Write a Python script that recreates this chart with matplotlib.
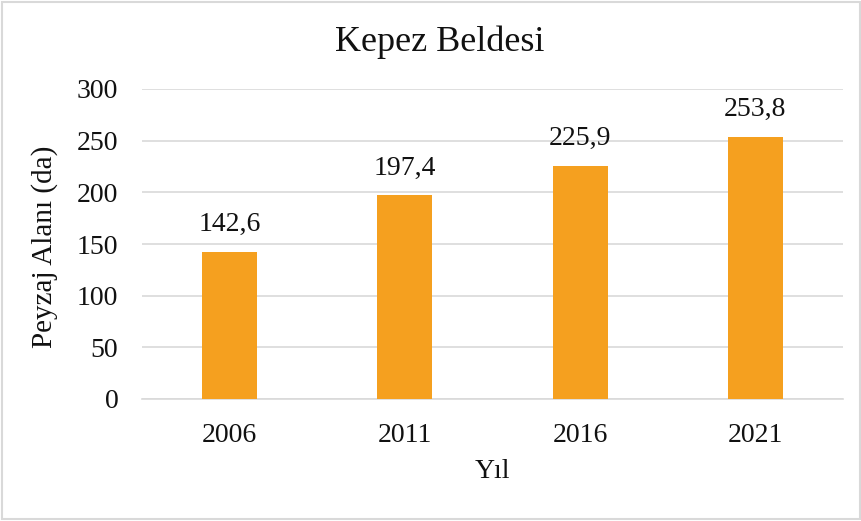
import matplotlib
matplotlib.use("Agg")
import matplotlib.pyplot as plt
from matplotlib.patches import Rectangle

years = ["2006", "2011", "2016", "2021"]
values = [142.6, 197.4, 225.9, 253.8]
labels = ["142,6", "197,4", "225,9", "253,8"]
yticks = [0, 50, 100, 150, 200, 250, 300]

plt.rcParams['font.family'] = ['Liberation Serif', 'DejaVu Serif']

fig = plt.figure(figsize=(8.62, 5.21), dpi=100)
ax = fig.add_axes([142/862, 1-399/521, 701/862, 310/521])

x = list(range(len(years)))
bars = ax.bar(x, values, width=0.314, color="#F5A01F", zorder=3)
for xi, v, lab in zip(x, values, labels):
    ax.text(xi, v + 14, lab, ha="center", va="bottom", fontsize=20, color="#111111")

ax.set_xlim(-0.5, len(years) - 0.5)
ax.set_ylim(0, 300)
ax.set_yticks(yticks)
ax.set_yticklabels([str(t) for t in yticks])
ax.set_xticks(x)
ax.set_xticklabels(years)
ax.tick_params(axis="both", length=0, labelsize=20, colors="#111111")
ax.tick_params(axis="y", pad=17)
ax.tick_params(axis="x", pad=17)
ax.grid(axis="y", color="#D9D9D9", linewidth=1.2, zorder=0)
for s in ["top", "right", "left"]:
    ax.spines[s].set_visible(False)
ax.spines["bottom"].set_color("#D9D9D9")
ax.spines["bottom"].set_linewidth(1.2)

fig.text(440/862, 1 - 42/521, "Kepez Beldesi", ha="center", va="center", fontsize=26, color="#111111")
fig.text(45/862, 1 - 247/521, "Peyzaj Alanı (da)", rotation=90, ha="center", va="center", fontsize=21, color="#111111")
fig.text(492/862, 1 - 472/521, "Yıl", ha="center", va="center", fontsize=20, color="#111111")

fig.patches.append(Rectangle((0.002, 0.004), 0.996, 0.992, transform=fig.transFigure,
                             fill=False, edgecolor="#D9D9D9", linewidth=1.5))

fig.savefig("out.png", dpi=100)
